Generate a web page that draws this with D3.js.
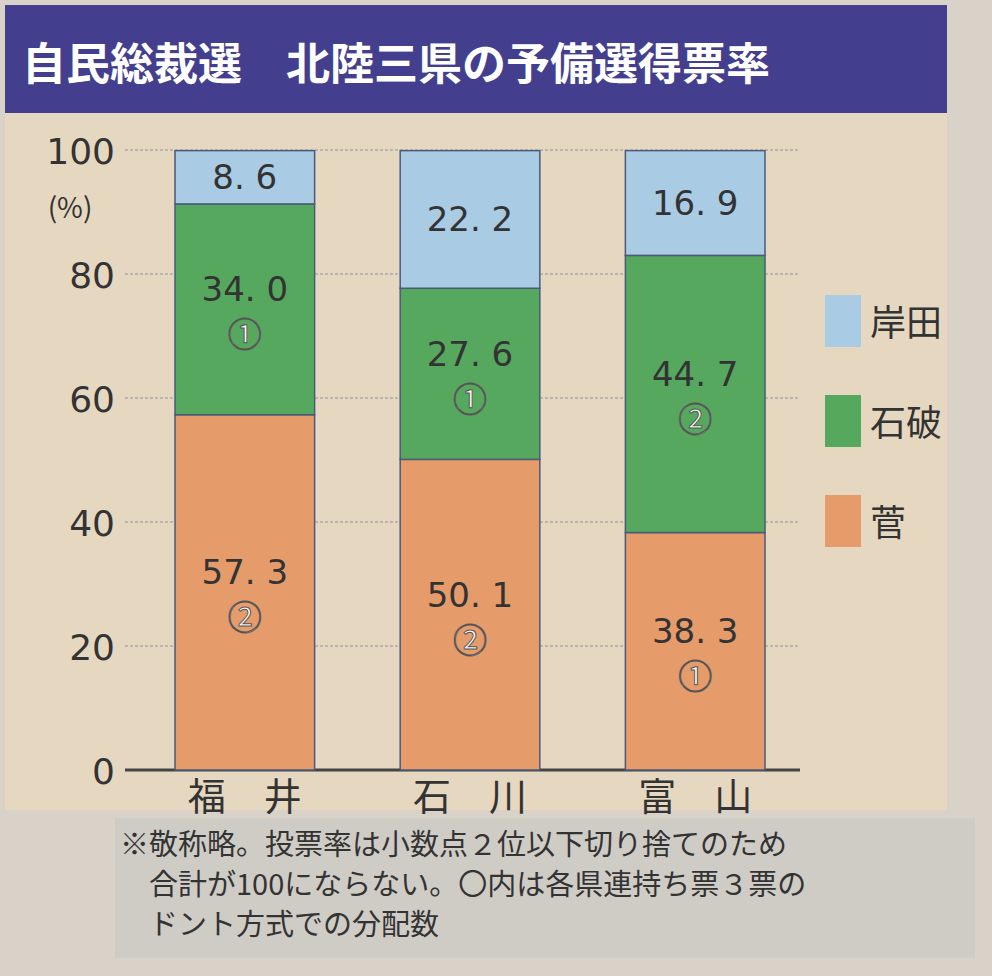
<!DOCTYPE html>
<html><head><meta charset="utf-8">
<script src="https://cdn.jsdelivr.net/npm/d3@7"></script>
<style>body{margin:0;background:#d9d4cc;font-family:"Noto Sans CJK JP",sans-serif}</style>
</head><body>
<svg id="c" width="992" height="976"></svg>
<script>
const prefectures = ["福　井", "石　川", "富　山"];
const candidates = ["菅", "石破", "岸田"];
const suga = [57.3, 50.1, 38.3];
const ishiba = [34.0, 27.6, 44.7];
const kishida = [8.6, 22.2, 16.9];
const sugaSeats = ["②", "②", "①"];
const ishibaSeats = ["①", "①", "②"];
const yTicks = [0, 20, 40, 60, 80, 100];
const colors = {"菅": "#e59b6a", "石破": "#55a85e", "岸田": "#a9cbe3"};

const svg = d3.select("#c");
svg.append("rect").attr("x", 0).attr("y", 0).attr("width", 992).attr("height", 976).attr("fill", "#d8d2c8");
svg.append("rect").attr("x", 5).attr("y", 110).attr("width", 942).attr("height", 700).attr("fill", "#e6d8c0");
svg.append("rect").attr("x", 5).attr("y", 5).attr("width", 942).attr("height", 108).attr("fill", "#433f8e");
svg.append("text").attr("x", 22).attr("y", 80).attr("fill", "#fff").attr("font-size", 44).attr("font-weight", "bold")
    .text("自民総裁選　北陸三県の予備選得票率");

const y = d3.scaleLinear().domain([0, 100]).range([770, 150]);
const x = d3.scaleBand().domain(prefectures).range([175, 765]).paddingInner(0.38).paddingOuter(0);

const g = svg.append("g");
yTicks.forEach(t => {
    g.append("line").attr("x1", 125).attr("x2", 800).attr("y1", y(t)).attr("y2", y(t))
        .attr("stroke", t === 0 ? "#444" : "#aaa").attr("stroke-width", t === 0 ? 3 : 1.5)
        .attr("stroke-dasharray", t === 0 ? null : "3,2");
    g.append("text").attr("x", 115).attr("y", y(t) + 14).attr("text-anchor", "end")
        .attr("font-size", 36).attr("fill", "#333").attr("font-family", "DejaVu Sans")
        .text(t);
});
g.append("text").attr("x", 70).attr("y", 218).attr("text-anchor", "middle").attr("font-size", 28).attr("fill", "#333").text("(%)");

const rows = prefectures.map((p, i) => ({p, "菅": suga[i], "石破": ishiba[i], "岸田": kishida[i], i}));
const stacked = d3.stack().keys(candidates)(rows);

stacked.forEach(layer => {
    g.selectAll(null).data(layer).enter().append("rect")
        .attr("x", d => x(d.data.p)).attr("width", x.bandwidth())
        .attr("y", d => y(d[1])).attr("height", d => y(d[0]) - y(d[1]))
        .attr("fill", colors[layer.key]).attr("stroke", "#4a5a7a").attr("stroke-width", 1.5);
    g.selectAll(null).data(layer).enter().append("text")
        .attr("x", d => x(d.data.p) + x.bandwidth() / 2)
        .attr("y", d => layer.key === "岸田" ? (y(d[0]) + y(d[1])) / 2 + 12 : (y(d[0]) + y(d[1])) / 2 - 8)
        .attr("text-anchor", "middle").attr("font-size", 34).attr("fill", "#333")
        .attr("font-family", "DejaVu Sans")
        .text(d => d.data[layer.key].toFixed(1).replace(".", ". "));
    if (layer.key !== "岸田") {
        const seats = layer.key === "菅" ? sugaSeats : ishibaSeats;
        g.selectAll(null).data(layer).enter().append("text")
            .attr("x", d => x(d.data.p) + x.bandwidth() / 2)
            .attr("y", d => (y(d[0]) + y(d[1])) / 2 + 38)
            .attr("text-anchor", "middle").attr("font-size", 34).attr("fill", "#fff")
            .attr("stroke", "#555").attr("stroke-width", 1)
            .text(d => seats[d.data.i]);
    }
});

prefectures.forEach(p => {
    g.append("text").attr("x", x(p) + x.bandwidth() / 2).attr("y", 810).attr("text-anchor", "middle")
        .attr("font-size", 38).attr("fill", "#333").text(p);
});

const legend = ["岸田", "石破", "菅"];
legend.forEach((k, i) => {
    g.append("rect").attr("x", 825).attr("y", 295 + i * 100).attr("width", 36).attr("height", 52)
        .attr("fill", colors[k]);
    g.append("text").attr("x", 870).attr("y", 336 + i * 100).attr("font-size", 36).attr("fill", "#333").text(k);
});

svg.append("rect").attr("x", 115).attr("y", 818).attr("width", 860).attr("height", 140).attr("fill", "#cfccc6");
const notes = ["※敬称略。投票率は小数点２位以下切り捨てのため", "　合計が100にならない。〇内は各県連持ち票３票の", "　ドント方式での分配数"];
notes.forEach((n, i) => {
    svg.append("text").attr("x", 120).attr("y", 855 + i * 40).attr("font-size", 29).attr("fill", "#333").text(n);
});
</script>
</body></html>
